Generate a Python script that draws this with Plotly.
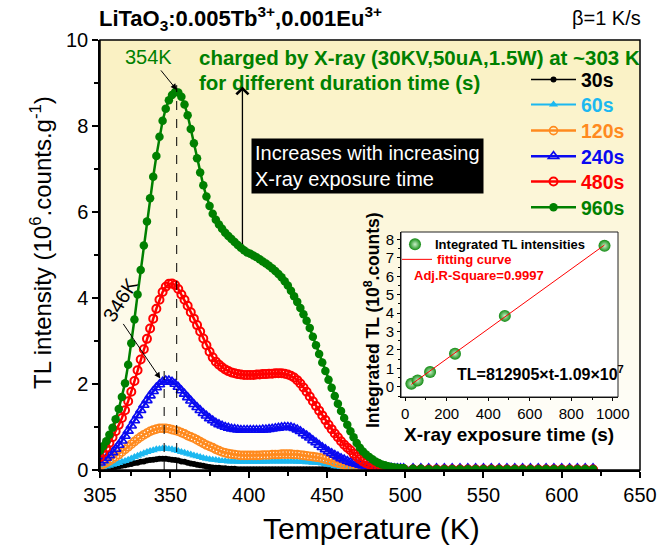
import plotly.graph_objects as go

# ---------------- data ----------------
temperature = list(range(305, 500, 2)) + list(range(505, 621, 5))  # K

tl_30s = [0.02, 0.03, 0.04, 0.05, 0.06, 0.07, 0.08, 0.10, 0.11, 0.13,
          0.14, 0.16, 0.17, 0.19, 0.20, 0.22, 0.23, 0.24, 0.25, 0.26,
          0.26, 0.26, 0.25, 0.24, 0.23, 0.22, 0.20, 0.19, 0.17, 0.15,
          0.14, 0.12, 0.11, 0.10, 0.08, 0.07, 0.06, 0.05, 0.05, 0.04,
          0.04, 0.03, 0.03, 0.03, 0.02, 0.02, 0.02, 0.02, 0.02, 0.02,
          0.02, 0.02, 0.02, 0.02, 0.02, 0.02, 0.02, 0.02, 0.02, 0.02,
          0.02, 0.02, 0.02, 0.02, 0.02, 0.02, 0.02, 0.02, 0.02, 0.02,
          0.02, 0.02, 0.02, 0.02, 0.01, 0.01, 0.01, 0.01, 0.01, 0.01,
          0.01, 0.01, 0.01, 0.01, 0.01, 0.01, 0.01, 0.01, 0.01, 0.01,
          0.01, 0.01, 0.01, 0.01, 0.01, 0.01, 0.01, 0.01,
          0.01, 0.01, 0.01, 0.01, 0.01, 0.01, 0.01, 0.01, 0.01, 0.01, 0.01, 0.01,
          0.01, 0.01, 0.01, 0.01, 0.01, 0.01, 0.01, 0.01, 0.01, 0.01, 0.01, 0.01]

tl_60s = [0.04, 0.06, 0.08, 0.10, 0.12, 0.14, 0.16, 0.19, 0.21, 0.24,
          0.27, 0.30, 0.33, 0.36, 0.39, 0.42, 0.44, 0.46, 0.48, 0.49,
          0.50, 0.50, 0.49, 0.48, 0.46, 0.44, 0.42, 0.40, 0.38, 0.36,
          0.34, 0.32, 0.30, 0.28, 0.26, 0.25, 0.24, 0.23, 0.22, 0.21,
          0.21, 0.20, 0.20, 0.20, 0.19, 0.19, 0.19, 0.19, 0.19, 0.19,
          0.19, 0.19, 0.19, 0.19, 0.20, 0.20, 0.20, 0.20, 0.20, 0.20,
          0.20, 0.20, 0.20, 0.19, 0.19, 0.19, 0.18, 0.18, 0.17, 0.17,
          0.16, 0.15, 0.14, 0.12, 0.11, 0.09, 0.08, 0.07, 0.06, 0.05,
          0.04, 0.03, 0.03, 0.02, 0.02, 0.02, 0.01, 0.01, 0.01, 0.01,
          0.01, 0.01, 0.01, 0.01, 0.01, 0.01, 0.01, 0.01,
          0.01, 0.01, 0.01, 0.01, 0.01, 0.01, 0.01, 0.01, 0.01, 0.01, 0.01, 0.01,
          0.01, 0.01, 0.01, 0.01, 0.01, 0.01, 0.01, 0.01, 0.01, 0.01, 0.01, 0.01]

tl_120s = [0.10, 0.13, 0.17, 0.21, 0.26, 0.31, 0.36, 0.42, 0.48, 0.54,
           0.60, 0.66, 0.72, 0.77, 0.82, 0.86, 0.90, 0.93, 0.95, 0.97,
           0.97, 0.97, 0.96, 0.94, 0.92, 0.90, 0.87, 0.84, 0.80, 0.77,
           0.74, 0.70, 0.66, 0.62, 0.58, 0.55, 0.52, 0.48, 0.45, 0.42,
           0.40, 0.38, 0.37, 0.36, 0.35, 0.34, 0.34, 0.34, 0.34, 0.34,
           0.34, 0.34, 0.35, 0.35, 0.35, 0.36, 0.36, 0.36, 0.37, 0.37,
           0.37, 0.37, 0.36, 0.36, 0.35, 0.34, 0.33, 0.32, 0.31, 0.30,
           0.29, 0.27, 0.25, 0.23, 0.21, 0.18, 0.16, 0.14, 0.12, 0.10,
           0.09, 0.08, 0.07, 0.06, 0.05, 0.04, 0.04, 0.03, 0.03, 0.02,
           0.02, 0.02, 0.02, 0.02, 0.02, 0.02, 0.02, 0.02,
           0.01, 0.01, 0.01, 0.01, 0.01, 0.01, 0.01, 0.01, 0.01, 0.01, 0.01, 0.01,
           0.01, 0.01, 0.01, 0.01, 0.01, 0.01, 0.01, 0.01, 0.01, 0.01, 0.01, 0.01]

tl_240s = [0.17, 0.22, 0.28, 0.34, 0.41, 0.49, 0.58, 0.68, 0.79, 0.91,
           1.03, 1.15, 1.27, 1.39, 1.51, 1.62, 1.73, 1.83, 1.92, 1.99,
           2.05, 2.08, 2.08, 2.05, 2.00, 1.93, 1.85, 1.77, 1.69, 1.61,
           1.53, 1.46, 1.39, 1.32, 1.26, 1.20, 1.15, 1.10, 1.06, 1.03,
           1.00, 0.98, 0.96, 0.95, 0.94, 0.93, 0.93, 0.93, 0.93, 0.93,
           0.93, 0.93, 0.94, 0.94, 0.95, 0.96, 0.97, 0.98, 0.99, 1.00,
           1.00, 0.99, 0.97, 0.94, 0.90, 0.85, 0.80, 0.75, 0.69, 0.64,
           0.58, 0.53, 0.48, 0.43, 0.39, 0.35, 0.31, 0.27, 0.24, 0.21,
           0.18, 0.16, 0.14, 0.12, 0.10, 0.09, 0.08, 0.07, 0.06, 0.06,
           0.05, 0.05, 0.05, 0.05, 0.04, 0.04, 0.04, 0.04,
           0.04, 0.04, 0.04, 0.04, 0.04, 0.04, 0.04, 0.04, 0.04, 0.04, 0.04, 0.04,
           0.04, 0.04, 0.04, 0.04, 0.04, 0.04, 0.04, 0.04, 0.04, 0.04, 0.04, 0.04]

tl_480s = [0.30, 0.40, 0.51, 0.63, 0.76, 0.90, 1.05, 1.21, 1.39, 1.60,
           1.82, 2.07, 2.32, 2.57, 2.81, 3.05, 3.29, 3.52, 3.75, 3.96,
           4.14, 4.26, 4.33, 4.34, 4.30, 4.21, 4.08, 3.96, 3.82, 3.67,
           3.52, 3.37, 3.22, 3.06, 2.90, 2.75, 2.62, 2.52, 2.45, 2.39,
           2.34, 2.30, 2.27, 2.25, 2.23, 2.22, 2.21, 2.21, 2.21, 2.21,
           2.22, 2.22, 2.23, 2.23, 2.24, 2.24, 2.25, 2.25, 2.25, 2.24,
           2.22, 2.19, 2.15, 2.09, 2.01, 1.92, 1.82, 1.71, 1.60, 1.49,
           1.38, 1.27, 1.16, 1.05, 0.95, 0.85, 0.76, 0.67, 0.59, 0.52,
           0.46, 0.38, 0.31, 0.25, 0.20, 0.16, 0.13, 0.10, 0.08, 0.07,
           0.05, 0.04, 0.04, 0.03, 0.03, 0.02, 0.02, 0.02,
           0.01, 0.01, 0.01, 0.01, 0.01, 0.01, 0.01, 0.01, 0.01, 0.01, 0.01, 0.01,
           0.01, 0.01, 0.01, 0.01, 0.01, 0.01, 0.01, 0.01, 0.01, 0.01, 0.01, 0.01]

tl_960s = [0.45, 0.55, 0.67, 0.82, 0.98, 1.18, 1.42, 1.70, 2.02, 2.45,
           2.95, 3.50, 4.08, 4.65, 5.22, 5.78, 6.32, 6.82, 7.30, 7.75,
           8.12, 8.40, 8.60, 8.72, 8.79, 8.78, 8.68, 8.50, 8.25, 7.93,
           7.60, 7.25, 6.92, 6.62, 6.36, 6.14, 5.96, 5.82, 5.71, 5.61,
           5.52, 5.44, 5.37, 5.30, 5.23, 5.17, 5.11, 5.06, 5.03, 4.99,
           4.95, 4.90, 4.85, 4.80, 4.75, 4.69, 4.63, 4.56, 4.48, 4.39,
           4.29, 4.17, 4.04, 3.91, 3.77, 3.62, 3.47, 3.30, 3.10, 2.90,
           2.70, 2.50, 2.30, 2.10, 1.91, 1.72, 1.54, 1.37, 1.21, 1.05,
           0.90, 0.76, 0.63, 0.52, 0.43, 0.36, 0.30, 0.25, 0.20, 0.16,
           0.13, 0.11, 0.09, 0.07, 0.06, 0.05, 0.04, 0.04,
           0.03, 0.03, 0.02, 0.02, 0.02, 0.02, 0.02, 0.02, 0.02, 0.02, 0.02, 0.02,
           0.02, 0.02, 0.02, 0.02, 0.02, 0.02, 0.02, 0.02, 0.02, 0.02, 0.02, 0.02]

series_labels = ["30s", "60s", "120s", "240s", "480s", "960s"]
series_values = [tl_30s, tl_60s, tl_120s, tl_240s, tl_480s, tl_960s]
series_colors = ["#000000", "#1CB8F0", "#FF8A1E", "#0A0AF0", "#FF0000", "#008000"]

# inset data
exposure_time = [30, 60, 120, 240, 480, 960]          # s
integrated_tl = [0.17, 0.35, 0.80, 1.80, 3.85, 7.65]  # 10^8 counts
fit_slope = 812905
fit_intercept = -1.09e7
fit_time = [30, 960]

peak_temps = [346, 354]

x_ticks = [305, 350, 400, 450, 500, 550, 600, 650]
x_minor = [325, 375, 425, 475, 525, 575, 625]

FONT = "Arial, Liberation Sans, sans-serif"

# pixel helpers for placing decorations (plot area 100..640 x 40..470)
def px(x):
    return (x - 100) / 540


def py(y):
    return (470 - y) / 430


# ---------------- styles ----------------
marker_styles = [
    dict(symbol="circle", size=6, line=dict(width=0)),
    dict(symbol="triangle-up", size=8, line=dict(width=0)),
    dict(symbol="circle-open", size=8, line=dict(width=1.6)),
    dict(symbol="triangle-up-open", size=9, line=dict(width=1.6)),
    dict(symbol="circle-open", size=8, line=dict(width=2)),
    dict(symbol="circle", size=8.5, line=dict(width=0)),
]
line_widths = [1.5, 2, 2.5, 2.5, 2.5, 2.5]
legend_ids = ["legend", "legend3", "legend4", "legend5", "legend6", "legend7"]
legend_row_centers = [80.7, 105.7, 131.7, 157.3, 182.7, 208.3]

fig = go.Figure()

for lab, vals, col, ms, lw, lid in zip(series_labels, series_values, series_colors,
                                        marker_styles, line_widths, legend_ids):
    m = dict(ms)
    m["color"] = col
    fig.add_trace(go.Scatter(
        x=temperature, y=vals, mode="lines+markers",
        line=dict(color=col, width=lw),
        marker=m,
        name=f"<span style='color:{col}'><b>{lab}</b></span>",
        legend=lid,
    ))

# inset traces
fit_y = [(fit_slope * t + fit_intercept) / 1e8 for t in fit_time]
fig.add_trace(go.Scatter(
    x=exposure_time, y=integrated_tl, mode="markers", xaxis="x2", yaxis="y2",
    marker=dict(symbol="circle", size=12, color="#118A11",
                gradient=dict(type="radial", color="#C8F0C8"),
                line=dict(width=0)),
    name="<b>Integrated TL intensities</b>", legend="legend2",
))
fig.add_trace(go.Scatter(
    x=fit_time, y=fit_y, mode="lines", xaxis="x2", yaxis="y2",
    line=dict(color="#FF0000", width=1),
    name="<span style='color:#FF0000'><b>fitting curve</b></span>", legend="legend8",
))

# ---------------- shapes ----------------
shapes = []
n_bands = 43
top_c = (250, 241, 194)
bot_c = (255, 255, 255)
for i in range(n_bands):
    f = i / (n_bands - 1)
    c = tuple(round(top_c[k] + (bot_c[k] - top_c[k]) * f) for k in range(3))
    shapes.append(dict(type="rect", xref="paper", yref="paper", x0=0, x1=1,
                       y0=1 - (i + 1) / n_bands - 0.002, y1=1 - i / n_bands,
                       fillcolor=f"rgb({c[0]},{c[1]},{c[2]})", line=dict(width=0),
                       layer="below"))
shapes.append(dict(type="rect", xref="paper", yref="paper", x0=0, x1=1, y0=0, y1=1,
                   line=dict(color="black", width=1.5), fillcolor="rgba(0,0,0,0)"))
shapes.append(dict(type="rect", xref="x2 domain", yref="y2 domain", x0=0, x1=1, y0=0, y1=1,
                   line=dict(color="#222", width=1), fillcolor="rgba(0,0,0,0)"))
shapes.append(dict(type="line", xref="x", yref="y", x0=peak_temps[0], x1=peak_temps[0],
                   y0=0, y1=2.45, line=dict(color="black", width=1, dash="dash")))
shapes.append(dict(type="line", xref="x", yref="y", x0=peak_temps[1], x1=peak_temps[1],
                   y0=0, y1=8.95, line=dict(color="black", width=1, dash="dash")))

# ---------------- annotations ----------------
ann = []
ann.append(dict(text="<b>LiTaO<sub>3</sub>:0.005Tb<sup>3+</sup>,0.001Eu<sup>3+</sup></b>",
                xref="paper", yref="paper", x=px(97), y=py(18), xanchor="left", yanchor="middle",
                showarrow=False, font=dict(family=FONT, size=22, color="black")))
ann.append(dict(text="β=1 K/s", xref="paper", yref="paper", x=px(643), y=py(18),
                xanchor="right", yanchor="middle", showarrow=False,
                font=dict(family=FONT, size=20, color="black")))
ann.append(dict(text="Temperature (K)", xref="paper", yref="paper", x=px(371), y=py(528),
                xanchor="center", yanchor="middle", showarrow=False,
                font=dict(family=FONT, size=30, color="black")))
ann.append(dict(text="TL intensity (10<sup>6</sup>.counts.g<sup>-1</sup>)", xref="paper", yref="paper",
                x=px(41), y=py(243), xanchor="center", yanchor="middle", textangle=-90,
                showarrow=False, font=dict(family=FONT, size=24, color="black")))
ann.append(dict(text="<b>charged by X-ray (30KV,50uA,1.5W) at ~303 K</b>", xref="paper", yref="paper",
                x=px(197), y=py(58), xanchor="left", yanchor="middle", showarrow=False,
                font=dict(family=FONT, size=20.5, color="#008000")))
ann.append(dict(text="<b>for different duration time (s)</b>", xref="paper", yref="paper",
                x=px(197), y=py(82), xanchor="left", yanchor="middle", showarrow=False,
                font=dict(family=FONT, size=20.5, color="#008000")))
ann.append(dict(text="354K", xref="paper", yref="paper", x=px(148), y=py(57),
                xanchor="center", yanchor="middle", showarrow=False,
                font=dict(family=FONT, size=20, color="#008000")))
ann.append(dict(text="", x=peak_temps[1], y=8.84, xref="x", yref="y", ax=-17, ay=-21,
                showarrow=True, arrowhead=2, arrowsize=1.2, arrowwidth=1, arrowcolor="black"))
ann.append(dict(text="346K", xref="x", yref="y", x=318, y=3.95, textangle=-58,
                xanchor="center", yanchor="middle", showarrow=False,
                font=dict(family=FONT, size=20, color="black")))
ann.append(dict(text="", x=343.5, y=2.13, xref="x", yref="y", ax=-38, ay=-56,
                showarrow=True, arrowhead=2, arrowsize=1.2, arrowwidth=1, arrowcolor="black"))
ann.append(dict(text="", x=396, y=8.92, xref="x", yref="y", ax=396, ay=5.22, axref="x", ayref="y",
                showarrow=True, arrowhead=4, arrowsize=1.8, arrowwidth=1.3, arrowcolor="black"))
ann.append(dict(text="Increases with increasing<br>X-ray exposure time", xref="paper", yref="paper",
                x=px(251), y=py(166), xanchor="left", yanchor="middle",
                align="left", showarrow=False, bgcolor="black", borderpad=3,
                font=dict(family=FONT, size=20, color="white")))
ann.append(dict(text="<b>Adj.R-Square=0.9997</b>", xref="paper", yref="paper",
                x=px(479), y=py(275), xanchor="center", yanchor="middle",
                showarrow=False, font=dict(family=FONT, size=13, color="#FF0000")))
ann.append(dict(text="<b>TL=812905×t-1.09×10<sup>7</sup></b>", xref="paper", yref="paper",
                x=px(455), y=py(373), xanchor="left", yanchor="middle",
                showarrow=False, font=dict(family=FONT, size=16, color="black")))
ann.append(dict(text="<b>Integrated TL (10<sup>8</sup>.counts)</b>", xref="paper", yref="paper",
                x=px(372), y=py(320), xanchor="center", yanchor="middle",
                textangle=-90, showarrow=False, font=dict(family=FONT, size=17.5, color="black")))
ann.append(dict(text="<b>X-ray exposure time (s)</b>", xref="paper", yref="paper",
                x=px(509), y=py(434), xanchor="center", yanchor="middle",
                showarrow=False, font=dict(family=FONT, size=19, color="black")))

axis_common = dict(showgrid=False, zeroline=False, showline=True, linecolor="black",
                   ticks="outside", tickcolor="black")

legends = {}
for lid, yc in zip(legend_ids, legend_row_centers):
    legends[lid] = dict(x=px(526), y=py(yc - 20.3), xanchor="left", yanchor="top",
                        bgcolor="rgba(0,0,0,0)", font=dict(family=FONT, size=19.5),
                        itemwidth=45, tracegroupgap=0)
legends["legend2"] = dict(x=px(395), y=py(244 - 14.6), xanchor="left", yanchor="top",
                          bgcolor="rgba(0,0,0,0)", font=dict(family=FONT, size=13, color="black"),
                          itemwidth=30, tracegroupgap=0)
legends["legend8"] = dict(x=px(397), y=py(259 - 14.6), xanchor="left", yanchor="top",
                          bgcolor="rgba(0,0,0,0)", font=dict(family=FONT, size=13, color="black"),
                          itemwidth=30, tracegroupgap=0)

fig.update_layout(
    width=670, height=555,
    margin=dict(l=100, r=30, t=40, b=85),
    paper_bgcolor="white", plot_bgcolor="white",
    font=dict(family=FONT, color="black"),
    xaxis=dict(**axis_common, range=[305, 650], tickmode="array", tickvals=x_ticks,
               linewidth=1.5, tickwidth=1.5, ticklen=6,
               minor=dict(tickmode="array", tickvals=x_minor, ticklen=4, tickwidth=1.5, tickcolor="black"),
               tickfont=dict(family=FONT, size=20, color="black")),
    yaxis=dict(**axis_common, range=[0, 10], tickmode="linear", tick0=0, dtick=2,
               linewidth=1.5, tickwidth=1.5, ticklen=6,
               minor=dict(tickmode="linear", tick0=0, dtick=1, ticklen=4, tickwidth=1.5, tickcolor="black"),
               tickfont=dict(family=FONT, size=20, color="black")),
    xaxis2=dict(**axis_common, domain=[px(401), px(618)], anchor="y2", range=[-20, 1025],
                tickmode="array", tickvals=[0, 200, 400, 600, 800, 1000],
                linewidth=1, tickwidth=1, ticklen=3,
                minor=dict(tickmode="array", tickvals=[100, 300, 500, 700, 900], ticklen=2, tickwidth=1, tickcolor="black"),
                tickfont=dict(family=FONT, size=15, color="black")),
    yaxis2=dict(**axis_common, domain=[py(397), py(232)], anchor="x2", range=[-0.55, 8.4],
                tickmode="linear", tick0=0, dtick=1,
                linewidth=1, tickwidth=1, ticklen=3,
                minor=dict(tickmode="linear", tick0=0, dtick=0.5, ticklen=2, tickwidth=1, tickcolor="black"),
                tickfont=dict(family=FONT, size=15, color="black")),
    shapes=shapes,
    annotations=ann,
    showlegend=True,
    **legends,
)

fig.write_html("out.html", config={"displayModeBar": False},
               post_script="document.body.style.margin='0px';")
